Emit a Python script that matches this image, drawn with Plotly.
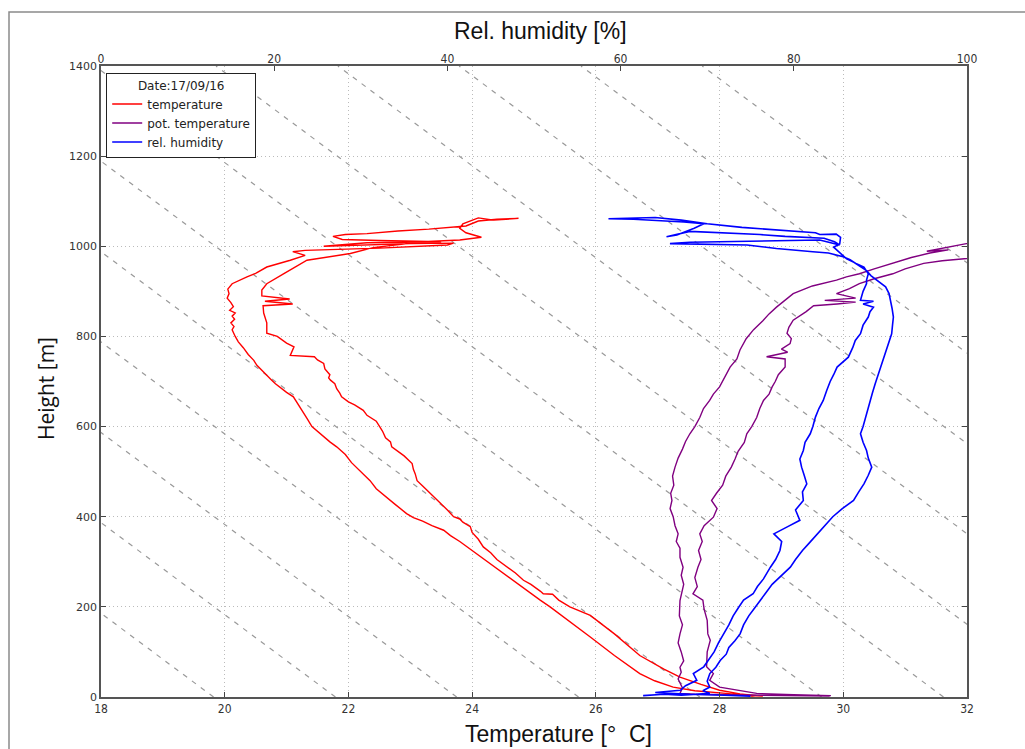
import plotly.graph_objects as go

# ---------------- data ----------------
# Temperature profile (°C) vs height (m): one continuous path (up, loop at top, down)
TEMP_VALUES = [28.7, 28.5, 28.1, 27.6, 27.25, 26.95, 26.71, 26.3,
               25.91, 25.75, 25.6, 25.45, 25.26, 25.1, 24.95, 24.8, 24.67, 24.5, 24.35, 24.2, 24.08,
               23.95, 23.8, 23.65, 23.54, 23.35, 23.2, 23.05, 22.94, 22.75, 22.6, 22.45, 22.35, 22.2,
               22.05, 21.95, 21.81, 21.7, 21.6, 21.5, 21.41, 21.33, 21.25, 21.18, 21.11, 21.0, 20.9,
               20.82, 20.76, 20.68, 20.6, 20.52, 20.47, 20.38, 20.3, 20.22, 20.17, 20.12, 20.15, 20.1,
               20.16, 20.12, 20.17, 20.08, 20.14, 20.1, 20.04, 20.07, 20.05, 20.12,
               20.36, 20.5, 20.68, 20.85, 21.06, 21.3, 21.1, 21.3, 22.5, 23.6, 23.7, 23.0, 22.2, 21.6,
               22.3, 23.5, 22.5, 21.9, 21.75, 21.95, 22.3, 22.8, 23.3, 23.9, 24.1, 24.4, 24.75, 24.35,
               24.1, 23.85, 23.8, 23.9, 24.15, 23.8, 23.2, 22.4, 22.03, 21.6, 21.33, 20.95, 20.68,
               20.6, 20.6, 21.05, 20.65, 21.1, 20.62, 20.63, 20.68, 20.68, 20.85, 21.0, 21.12, 21.06,
               21.45, 21.5, 21.6, 21.62, 21.7, 21.68, 21.71, 21.78, 21.81, 21.86, 21.89, 22.0, 22.1,
               22.24, 22.3, 22.45, 22.51, 22.55, 22.6, 22.68, 22.7, 22.8, 22.9, 23.03, 23.05, 23.08,
               23.11, 23.2, 23.3, 23.38, 23.5, 23.6, 23.7, 23.8, 23.85, 23.97, 24.0, 24.1, 24.18,
               24.3, 24.4, 24.5, 24.64, 24.7, 24.83, 24.95, 25.1, 25.15, 25.3, 25.4, 25.58, 25.75,
               25.91, 26.3, 26.71, 27.1, 27.36, 27.7, 28.0, 28.33, 28.6, 28.5]
TEMP_HEIGHT = [2, 3, 8, 14, 22, 36, 52, 92,
               133, 150, 165, 180, 200, 215, 230, 245, 259, 275, 290, 305, 318,
               330, 345, 358, 370, 380, 390, 398, 407, 428, 445, 462, 480, 500,
               520, 538, 555, 566, 578, 590, 600, 618, 635, 650, 666, 676, 686,
               695, 703, 714, 725, 736, 747, 760, 775, 788, 800, 815, 822, 830,
               838, 845, 852, 858, 866, 875, 885, 895, 905, 917,
               932, 940, 954, 960, 969, 980, 988, 991, 996, 1003, 1007, 1006, 1003, 1000,
               1008, 1010, 1013, 1015, 1022, 1026, 1028, 1034, 1038, 1045, 1056, 1060, 1062, 1058,
               1063, 1050, 1040, 1030, 1020, 1014, 1010, 997, 984, 975, 969, 939, 917,
               903, 890, 883, 878, 872, 868, 852, 830, 807, 800, 785, 777, 758,
               755, 748, 740, 728, 715, 708, 703, 695, 684, 674, 666, 655, 648,
               636, 625, 612, 600, 590, 575, 566, 555, 545, 535, 518, 505, 495,
               480, 468, 455, 444, 430, 415, 400, 395, 388, 378, 365, 350, 333,
               320, 305, 295, 281, 275, 259, 250, 235, 229, 228, 215, 200, 190,
               181, 140, 92, 62, 44, 28, 15, 7, 3, 1]

# Potential temperature (°C) vs height (m)
THETA_VALUES = [29.78, 29.2, 28.6, 28.0, 27.6,
                27.36, 27.4, 27.33, 27.38, 27.36, 27.42, 27.38, 27.33, 27.36, 27.4, 27.35, 27.36,
                27.42, 27.38, 27.41, 27.36, 27.36, 27.3, 27.33, 27.28, 27.25, 27.2, 27.23, 27.21,
                27.26, 27.24, 27.28, 27.33, 27.4, 27.45, 27.52, 27.6, 27.68, 27.74, 27.84, 27.9,
                28.0, 28.08, 28.17, 28.28, 28.33, 28.43, 28.55, 28.7, 28.8, 28.92, 29.05, 29.19,
                29.5, 29.7, 29.89, 30.05, 30.26, 30.5, 30.8, 31.1, 31.4, 31.7, 31.35, 31.99,
                33.0, 34.5, 35.5, 34.3, 33.0,
                32.0, 31.6, 31.3, 31.0, 30.8, 30.5, 30.26, 30.1, 29.89, 30.2, 29.7, 30.2, 29.9,
                29.52, 29.4, 29.3, 29.19, 29.12, 29.09, 29.16, 29.14, 29.0, 29.1, 28.76, 29.06,
                29.06, 28.95, 28.9, 28.85, 28.8, 28.71, 28.65, 28.6, 28.52, 28.44, 28.4, 28.3,
                28.25, 28.19, 28.1, 28.05, 27.95, 27.87, 27.96, 27.9, 27.75, 27.68, 27.72, 27.66,
                27.7, 27.65, 27.6, 27.64, 27.57, 27.73, 27.75, 27.8, 27.81, 27.85, 27.8, 27.79,
                27.9, 27.84, 28.0, 28.33, 28.6, 29.2, 29.8]
THETA_HEIGHT = [2, 3, 4, 5, 6,
                8, 20, 40, 55, 66, 80, 100, 120, 140, 160, 180, 214,
                250, 270, 288, 310, 330, 345, 362, 380, 400, 418, 436, 452,
                470, 490, 510, 530, 550, 567, 584, 600, 620, 640, 658, 672,
                688, 710, 732, 750, 770, 795, 815, 835, 850, 865, 880, 895,
                912, 918, 925, 932, 939, 950, 962, 975, 985, 992, 989, 1006,
                1015, 1040, 1062, 1035, 998,
                973, 968, 962, 950, 939, 928, 917, 906, 895, 885, 880, 876, 872,
                868, 855, 845, 836, 820, 807, 795, 784, 772, 765, 755, 750,
                732, 715, 700, 688, 672, 658, 640, 620, 600, 584, 565, 545,
                528, 510, 490, 470, 452, 436, 418, 399, 380, 362, 345, 325,
                305, 288, 265, 245, 229, 215, 195, 170, 140, 126, 100, 67,
                52, 37, 22, 15, 8, 5, 3]

# Relative humidity (%) vs height (m)
RH_VALUES = [62.6, 65.0, 67.0, 70.3, 69.5, 70.3, 70.0,
             70.3, 71.0, 71.5, 72.2, 72.5, 73.2, 73.8, 74.2, 74.8, 75.5, 76.1, 76.8, 77.5, 78.5,
             79.6, 80.2, 81.0, 81.8, 82.7, 83.5, 84.5, 85.6, 86.9, 87.5, 88.1, 88.6, 89.0, 88.6,
             88.4, 88.0, 87.7, 88.0, 88.3, 88.5, 88.8, 89.1, 89.4, 89.7, 90.0, 90.4, 90.7, 91.0,
             91.3, 91.4, 91.5, 91.35, 91.2, 91.0, 90.6, 89.6, 88.9, 88.4, 87.3,
             86.5, 85.7, 84.0, 82.2, 78.0, 74.6,
             70.0, 65.7, 68.0, 74.0, 80.0, 83.0, 85.3, 84.7, 83.5, 82.2, 79.0, 76.1, 72.0, 68.0,
             65.3, 66.5, 68.5, 69.6, 67.3, 64.0, 61.5, 58.6, 61.0, 64.0, 67.0, 70.0, 74.0, 79.0,
             82.5, 83.0, 84.9, 85.4, 85.3, 84.6, 85.4, 86.1,
             87.3, 88.1, 88.6, 88.4, 88.4, 88.0, 87.7, 89.2, 88.0, 89.2, 88.8, 88.6, 88.0, 87.7,
             87.1, 86.8, 86.3, 85.6, 85.0, 84.6, 84.2, 83.8, 83.4, 82.9, 82.5, 82.2, 81.9, 81.3,
             81.1, 80.7, 80.9, 81.2, 81.5, 81.0, 81.1, 80.2, 80.7, 79.3, 77.7, 78.6, 78.4, 77.9,
             77.3, 76.5, 75.8, 75.3, 74.2, 73.6, 73.0, 72.5, 71.9, 71.3, 70.8, 70.2, 69.6, 68.4,
             68.8, 67.5, 66.9, 64.0, 68.0, 72.0, 75.0]
RH_HEIGHT = [3, 6, 4, 8, 14, 22, 35,
             52, 66, 81, 95, 110, 125, 140, 160, 180, 198, 215, 232, 250, 268,
             288, 305, 325, 342, 362, 380, 400, 418, 436, 455, 473, 492, 510, 530,
             547, 565, 584, 600, 621, 640, 658, 676, 695, 712, 732, 750, 770, 788,
             806, 825, 843, 862, 880, 895, 910, 924, 935, 946, 961,
             970, 977, 985, 988, 995, 1003,
             1005, 1006, 1009, 1011, 1012, 1014, 1003, 1010, 1018, 1019, 1022, 1026, 1030, 1033,
             1021, 1025, 1040, 1050, 1054, 1058, 1060, 1061, 1063, 1064, 1058, 1050, 1042, 1034,
             1030, 1026, 1027, 1020, 1005, 998, 983, 972,
             961, 954, 939, 925, 917, 900, 880, 878, 872, 865, 855, 843, 825, 806,
             791, 775, 754, 742, 732, 715, 700, 680, 658, 640, 621, 600, 584, 565,
             547, 528, 510, 492, 473, 455, 436, 415, 392, 378, 362, 345, 325, 305,
             288, 262, 245, 229, 215, 198, 180, 160, 140, 120, 100, 82, 67, 52,
             37, 25, 15, 10, 6, 4, 2]

# Surface temperatures (°C) of the dashed dry-adiabat guide lines
ADIABAT_BASE_T = [19.82, 21.79, 23.75, 25.72, 27.68, 29.65, 31.62,
                  33.58, 35.55, 37.51, 39.48, 41.44]
DRY_LAPSE_RATE = 0.0098  # K per m

TEMP_TICKS = [18, 20, 22, 24, 26, 28, 30, 32]
RH_TICKS = [0, 20, 40, 60, 80, 100]
HEIGHT_TICKS = [0, 200, 400, 600, 800, 1000, 1200, 1400]

# ---------------- figure ----------------
fig = go.Figure()

for t0 in ADIABAT_BASE_T:
    fig.add_trace(go.Scatter(
        x=[t0, t0 - DRY_LAPSE_RATE * 1400], y=[0, 1400], mode="lines",
        line=dict(color="#999999", width=1.2, dash="5px,6px"),
        showlegend=False, hoverinfo="skip"))

fig.add_trace(go.Scatter(x=TEMP_VALUES, y=TEMP_HEIGHT, mode="lines", name="temperature",
                         line=dict(color="#ff0000", width=1.4)))
fig.add_trace(go.Scatter(x=THETA_VALUES, y=THETA_HEIGHT, mode="lines", name="pot. temperature",
                         line=dict(color="#800080", width=1.4)))
fig.add_trace(go.Scatter(x=RH_VALUES, y=RH_HEIGHT, mode="lines", name="rel. humidity",
                         xaxis="x2", line=dict(color="#0000ff", width=1.6)))

tickfont = dict(family="Liberation Sans Narrow, DejaVu Sans Condensed, Arial Narrow, sans-serif",
                size=12, color="#333333")

fig.update_layout(
    width=1025, height=749,
    margin=dict(l=101, r=58, t=66, b=52),
    paper_bgcolor="white", plot_bgcolor="white",
    showlegend=True,
    xaxis=dict(range=[18, 32], tickvals=TEMP_TICKS, ticks="inside", ticklen=5, tickcolor="#444",
               showline=True, linecolor="#555555", linewidth=1.5, mirror=True,
               showgrid=True, gridcolor="#bbbbbb", griddash="1px,3px", gridwidth=1,
               zeroline=False, tickfont=tickfont),
    xaxis2=dict(range=[0, 100], tickvals=RH_TICKS, overlaying="x", side="top", anchor="y",
                ticks="inside", ticklen=5, tickcolor="#444", showgrid=False, zeroline=False,
                showline=False, tickfont=tickfont),
    yaxis=dict(range=[0, 1400], tickvals=HEIGHT_TICKS, ticks="inside", ticklen=5, tickcolor="#444",
               showline=True, linecolor="#555555", linewidth=1.5, mirror="ticks",
               showgrid=True, gridcolor="#bbbbbb", griddash="1px,3px", gridwidth=1,
               zeroline=False,
               tickfont=dict(family="DejaVu Sans, sans-serif", size=11, color="#333333")),
    legend=dict(x=0.006, y=0.989, xanchor="left", yanchor="top",
                bgcolor="white", bordercolor="#222222", borderwidth=1,
                font=dict(family="DejaVu Sans, sans-serif", size=12, color="#222"),
                title=dict(text="Date:17/09/16", side="top center",
                           font=dict(family="DejaVu Sans, sans-serif", size=12, color="#222")),
                itemwidth=30, tracegroupgap=0),
    annotations=[
        dict(text="Rel. humidity [%]", xref="paper", yref="paper", x=0.507, y=(697 - 31) / 631,
             xanchor="center", yanchor="middle", showarrow=False,
             font=dict(family="Liberation Sans Narrow, Arial Narrow, Liberation Sans, sans-serif",
                       size=23, color="#111")),
        dict(text="Temperature [°  C]", xref="paper", yref="paper", x=0.528, y=(697 - 734) / 631,
             xanchor="center", yanchor="middle", showarrow=False,
             font=dict(family="Liberation Sans Narrow, Arial Narrow, Liberation Sans, sans-serif",
                       size=23, color="#111")),
        dict(text="Height [m]", xref="paper", yref="paper", x=(46 - 101) / 866, y=(697 - 388) / 631,
             xanchor="center", yanchor="middle", showarrow=False, textangle=-90,
             font=dict(family="Open Sans, sans-serif", size=21, color="#111")),
    ],
    shapes=[
        dict(type="rect", xref="paper", yref="paper",
             x0=(9 - 101) / 866, x1=(1040 - 101) / 866,
             y0=(697 - 770) / 631, y1=(697 - 12) / 631,
             line=dict(color="#8a8a8a", width=1.5), fillcolor="rgba(0,0,0,0)", layer="below"),
    ],
)

fig.write_html(
    "out.html",
    config={"displayModeBar": False},
    post_script="document.body.style.margin='0';document.body.style.overflow='hidden';"
                "document.documentElement.style.overflow='hidden';",
)
